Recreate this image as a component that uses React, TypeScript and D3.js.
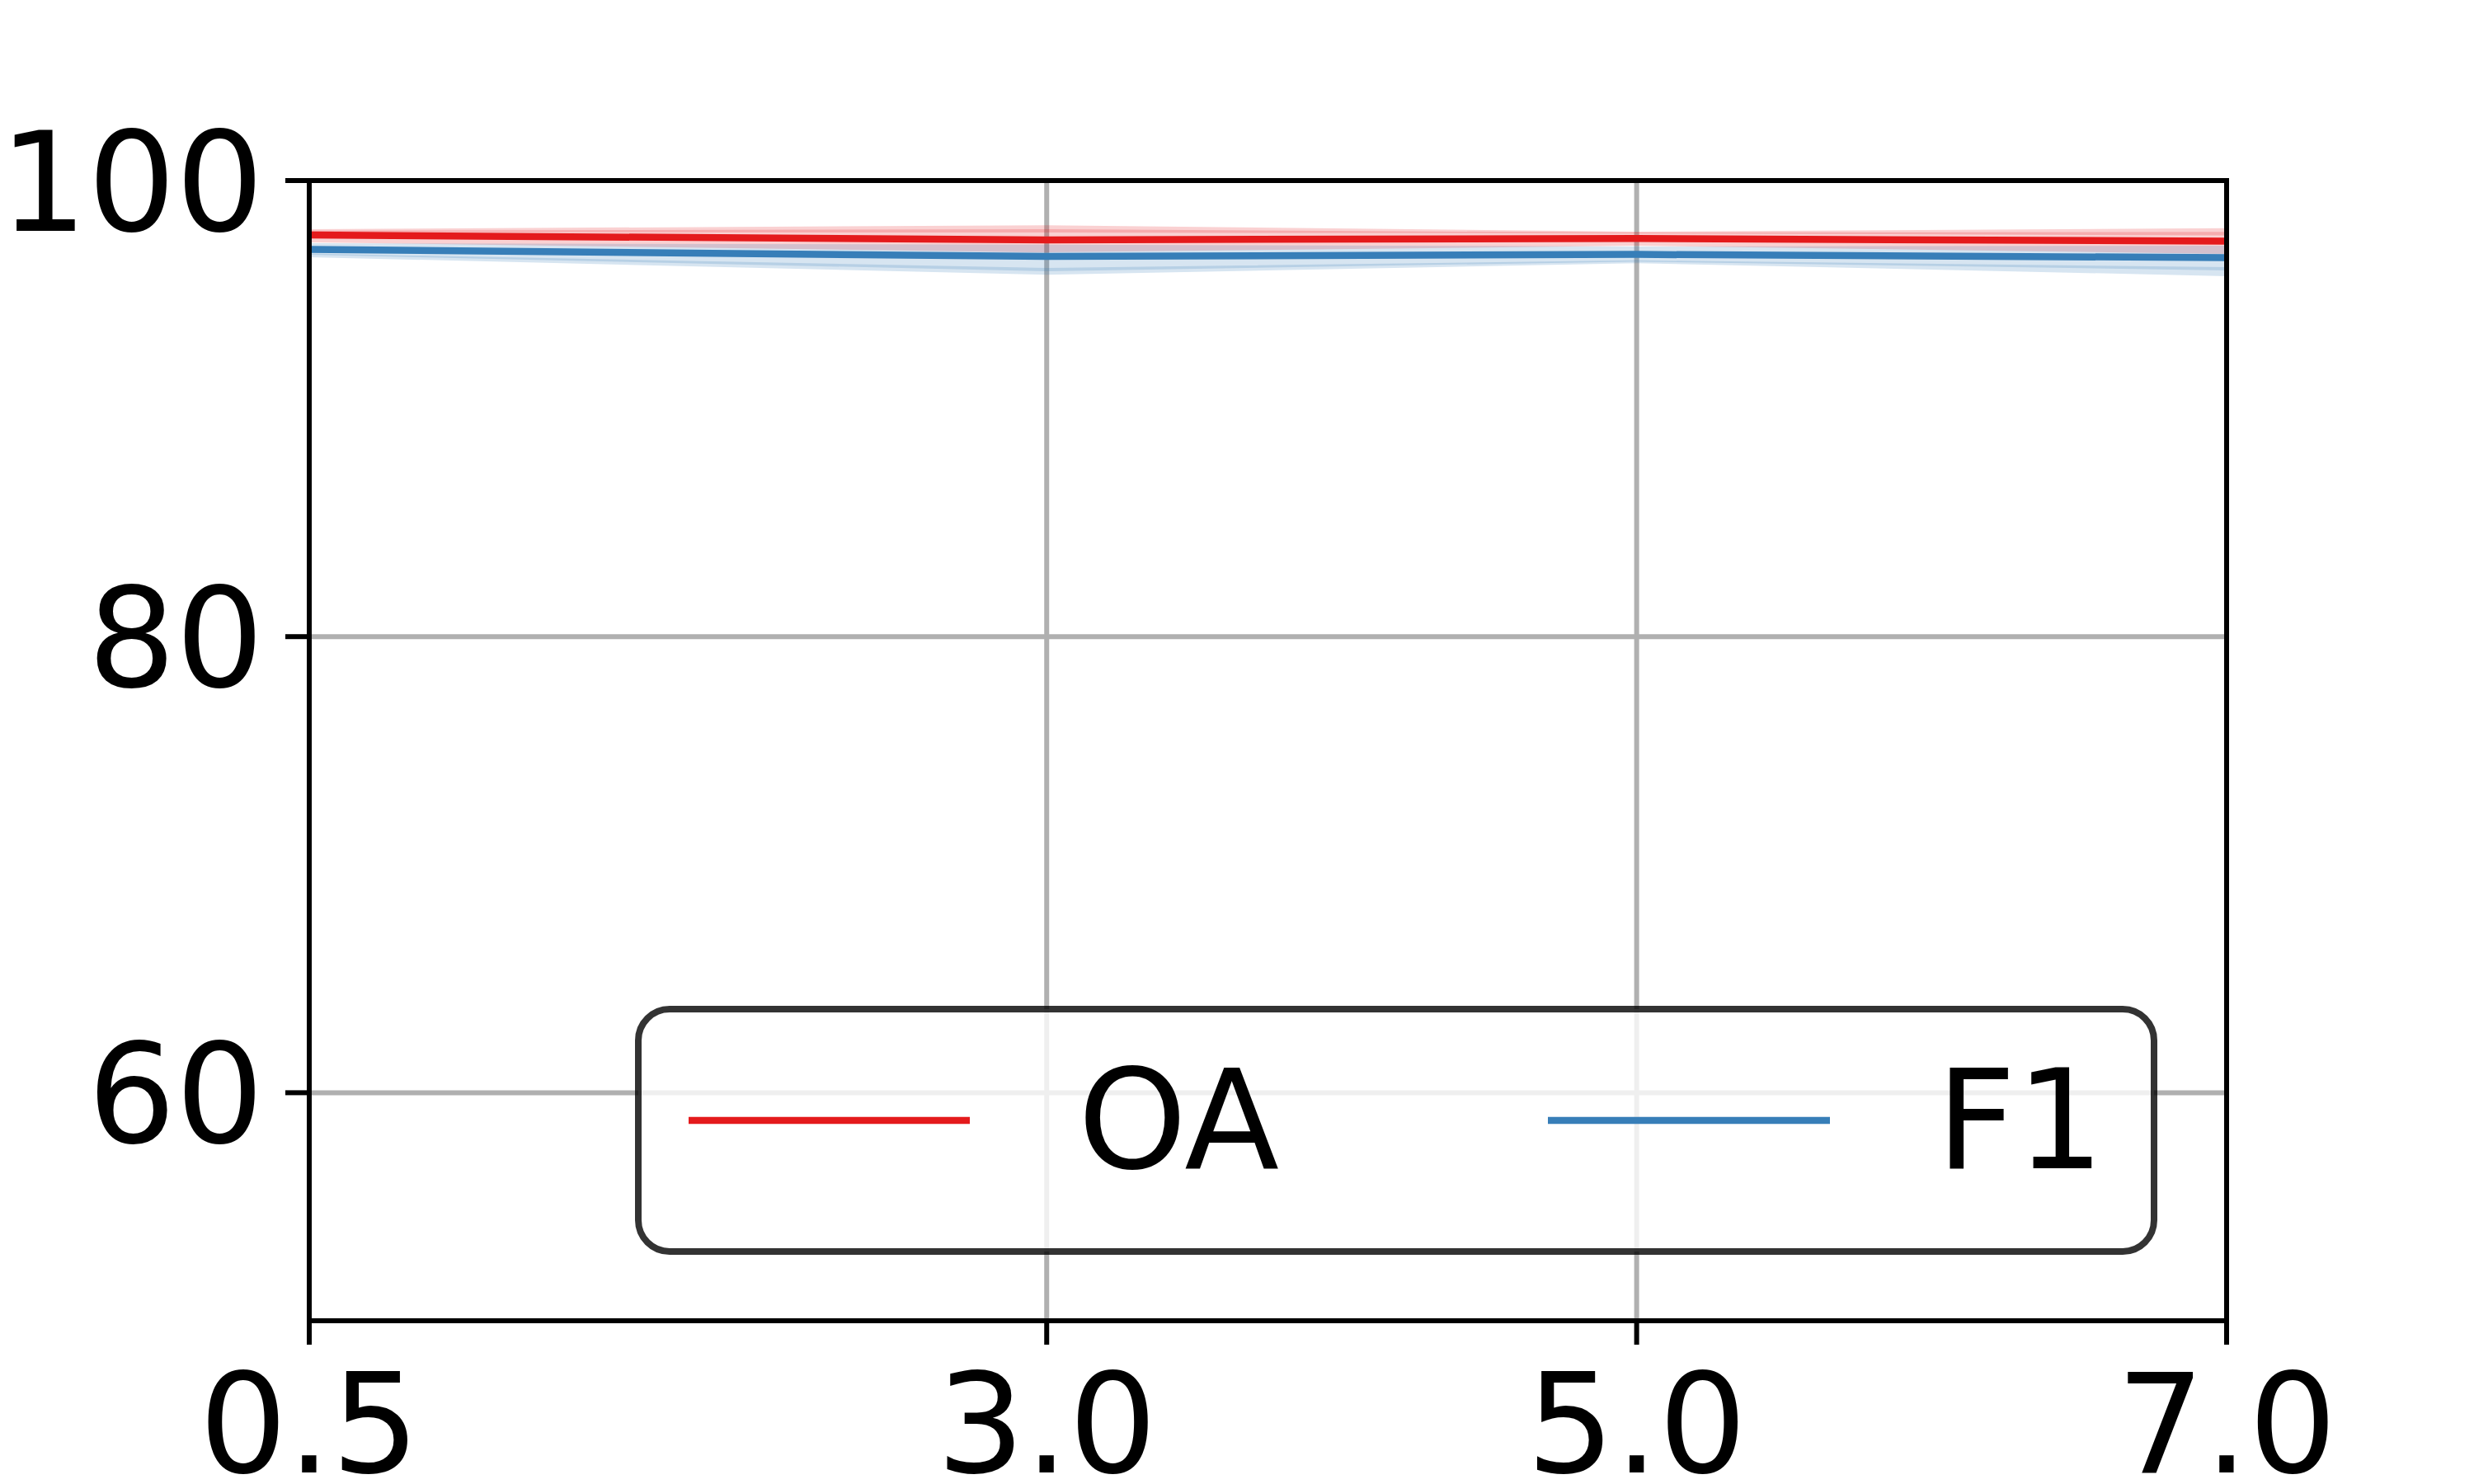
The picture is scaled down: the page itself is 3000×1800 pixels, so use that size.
import * as d3 from 'd3'

// x positions and tick labels
const X_VALUES = [0.5, 3.0, 5.0, 7.0]
const X_TICK_LABELS = ['0.5', '3.0', '5.0', '7.0']
const Y_TICKS = [60, 80, 100]

// OA series (mean line + two overlapping spread bands)
const OA_MEAN = [97.61, 97.4, 97.46, 97.34]
const OA_WIDE_UPPER = [97.8, 97.87, 97.72, 97.75]
const OA_WIDE_LOWER = [97.29, 96.85, 97.14, 96.78]
const OA_NARROW_UPPER = [97.87, 98.04, 97.76, 97.91]
const OA_NARROW_LOWER = [97.74, 97.72, 97.68, 97.6]

// F1 series
const F1_MEAN = [96.98, 96.67, 96.76, 96.62]
const F1_WIDE_UPPER = [97.25, 97.19, 97.11, 97.14]
const F1_WIDE_LOWER = [96.75, 96.02, 96.45, 96.06]
const F1_NARROW_UPPER = [96.8, 96.17, 96.5, 96.2]
const F1_NARROW_LOWER = [96.64, 95.87, 96.38, 95.81]

const RED = '#e41a1c'
const BLUE = '#377eb8'

const W = 3000
const H = 1800
const LEFT = 375
const RIGHT = 2700
const TOP = 219
const BOTTOM = 1602
const FONT = '"DejaVu Sans", sans-serif'
const FS = 168

const x = d3.scaleLinear().domain([0.5, 7.0]).range([LEFT, RIGHT])
const y = d3.scaleLinear().domain([50, 100]).range([BOTTOM, TOP])

const line = d3.line<number>()
  .x((_, i) => x(X_VALUES[i]))
  .y((d) => y(d))

function band(upper: number[], lower: number[]) {
  const area = d3.area<number>()
    .x((_, i) => x(X_VALUES[i]))
    .y0((_, i) => y(lower[i]))
    .y1((_, i) => y(upper[i]))
  return area(upper) || ''
}

export default function App() {
  return (
    <svg
      width={W}
      height={H}
      style={{ position: 'absolute', left: 0, top: 0, background: '#fff' }}
      fontFamily={FONT}
    >
      <rect x={0} y={0} width={W} height={H} fill="#fff" />

      {/* grid */}
      {X_VALUES.map((v) => (
        <line key={'gx' + v} x1={x(v)} x2={x(v)} y1={TOP} y2={BOTTOM} stroke="#b0b0b0" strokeWidth={6} />
      ))}
      {Y_TICKS.map((v) => (
        <line key={'gy' + v} x1={LEFT} x2={RIGHT} y1={y(v)} y2={y(v)} stroke="#b0b0b0" strokeWidth={6} />
      ))}

      {/* bands */}
      <path d={band(OA_WIDE_UPPER, OA_WIDE_LOWER)} fill={RED} fillOpacity={0.2} />
      <path d={band(OA_NARROW_UPPER, OA_NARROW_LOWER)} fill={RED} fillOpacity={0.2} />
      <path d={band(F1_WIDE_UPPER, F1_WIDE_LOWER)} fill={BLUE} fillOpacity={0.2} />
      <path d={band(F1_NARROW_UPPER, F1_NARROW_LOWER)} fill={BLUE} fillOpacity={0.2} />

      {/* lines */}
      <path d={line(OA_MEAN) || ''} fill="none" stroke={RED} strokeWidth={8.5} />
      <path d={line(F1_MEAN) || ''} fill="none" stroke={BLUE} strokeWidth={8.5} />

      {/* spines */}
      <rect x={LEFT} y={TOP} width={RIGHT - LEFT} height={BOTTOM - TOP} fill="none" stroke="#000" strokeWidth={6} />

      {/* x ticks */}
      {X_VALUES.map((v, i) => (
        <g key={'xt' + v}>
          <line x1={x(v)} x2={x(v)} y1={BOTTOM} y2={BOTTOM + 29} stroke="#000" strokeWidth={6} />
          <text x={x(v)} y={1786} fontSize={FS} textAnchor="middle" fill="#000">
            {X_TICK_LABELS[i]}
          </text>
        </g>
      ))}

      {/* y ticks */}
      {Y_TICKS.map((v) => (
        <g key={'yt' + v}>
          <line x1={LEFT - 29} x2={LEFT} y1={y(v)} y2={y(v)} stroke="#000" strokeWidth={6} />
          <text x={320} y={y(v) + 61} fontSize={FS} textAnchor="end" fill="#000">
            {v}
          </text>
        </g>
      ))}

      {/* legend */}
      <rect
        x={774}
        y={1224}
        width={1838}
        height={294}
        rx={38}
        fill="#fff"
        fillOpacity={0.8}
        stroke="#000"
        strokeOpacity={0.8}
        strokeWidth={8}
      />
      <line x1={835} x2={1176} y1={1359} y2={1359} stroke={RED} strokeWidth={8.5} />
      <text x={1307} y={1417} fontSize={FS} fill="#000">OA</text>
      <line x1={1877} x2={2219} y1={1359} y2={1359} stroke={BLUE} strokeWidth={8.5} />
      <text x={2348} y={1417} fontSize={FS} fill="#000">F1</text>
    </svg>
  )
}
